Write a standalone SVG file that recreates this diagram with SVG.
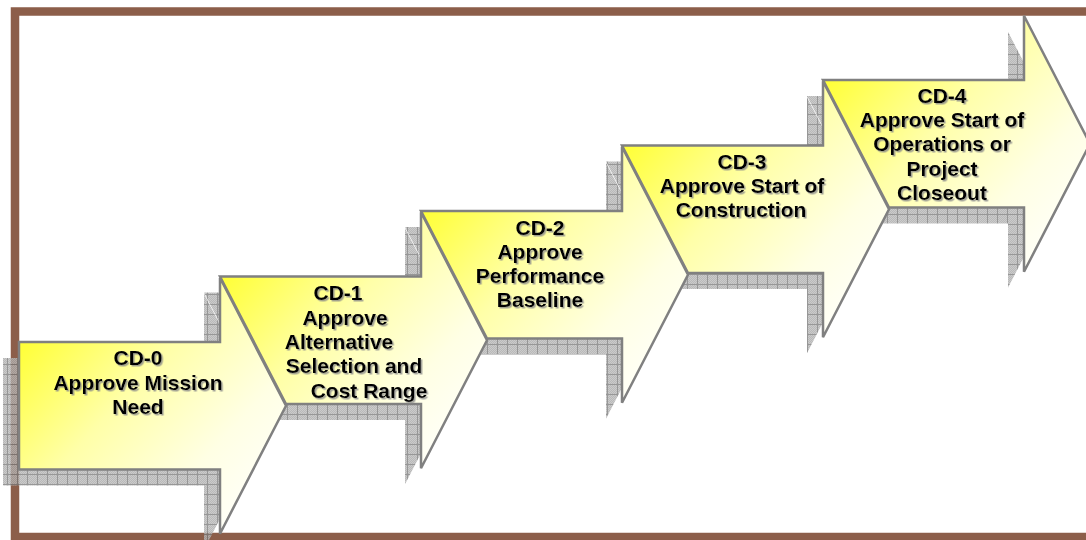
<svg xmlns="http://www.w3.org/2000/svg" xmlns:xlink="http://www.w3.org/1999/xlink" width="1086" height="540" viewBox="0 0 1086 540">
  <defs>
    <pattern id="dither" patternUnits="userSpaceOnUse" x="0" y="0" width="2" height="2">
      <rect width="2" height="2" fill="#bdbdbd"/>
      <rect width="1" height="1" fill="#a6a6a6"/>
      <rect x="1" y="1" width="1" height="1" fill="#a6a6a6"/>
    </pattern>
    <pattern id="grid" patternUnits="userSpaceOnUse" x="3" y="8" width="10" height="10">
      <rect width="10" height="10" fill="url(#dither)"/>
      <path d="M0 0.5H10M0.5 0V10" stroke="#7a7a7a" stroke-width="1" fill="none"/>
    </pattern>
    <linearGradient id="yg" x1="0.02" y1="0.22" x2="0.85" y2="0.95">
      <stop offset="0" stop-color="#ffff33"/>
      <stop offset="0.4" stop-color="#ffffa8"/>
      <stop offset="0.75" stop-color="#ffffe4"/>
      <stop offset="1" stop-color="#fffffa"/>
    </linearGradient>
    <filter id="ts" x="-5%" y="-20%" width="110%" height="140%">
      <feDropShadow dx="1.5" dy="1.5" stdDeviation="0.4" flood-color="#8a8a8a" flood-opacity="0.8"/>
    </filter>
  </defs>
  <style>
    .arrow { fill: url(#yg); stroke: #808080; stroke-width: 2.5; stroke-linejoin: miter; }
    .shadow { fill: url(#grid); stroke: none; }
    .lbl { font-family: "Liberation Sans", Arial, sans-serif; font-weight: bold; font-size: 21px; fill: #000; text-anchor: middle; filter: url(#ts); }
  </style>

  <rect id="frame" x="15" y="11.5" width="1100" height="525.5" fill="none" stroke="#8c5e4a" stroke-width="8.5"/>

  <g id="shadows" opacity="0.78" transform="translate(-16,16)">
    <polygon class="shadow" points="19,342 220,342 220,277.75 286,405.75 220,533.75 220,469.5 19,469.5"/>
    <polygon class="shadow" points="220,276.5 421,276.5 421,212.25 487,340.25 421,468.25 421,404 286,404"/>
    <polygon class="shadow" points="421,211 622,211 622,146.75 688,274.75 622,402.75 622,338.5 487,338.5"/>
    <polygon class="shadow" points="622,145.5 823,145.5 823,81.25 889,209.25 823,337.25 823,273 688,273"/>
    <polygon class="shadow" points="823,80 1024,80 1024,15.75 1090,143.75 1024,271.75 1024,207.5 889,207.5"/>
  </g>

  <g id="cd0">
    <polygon class="arrow" points="19,342 220,342 220,277.75 286,405.75 220,533.75 220,469.5 19,469.5"/>
    <text class="lbl" x="138" y="365">CD-0</text>
    <text class="lbl" x="138" y="389.5">Approve Mission</text>
    <text class="lbl" x="138" y="414">Need</text>
  </g>
  <g id="cd1">
    <polygon class="arrow" points="220,276.5 421,276.5 421,212.25 487,340.25 421,468.25 421,404 286,404"/>
    <text class="lbl" x="338" y="300">CD-1</text>
    <text class="lbl" x="345" y="324.5">Approve</text>
    <text class="lbl" x="339" y="349">Alternative</text>
    <text class="lbl" x="354" y="373">Selection and</text>
    <text class="lbl" x="369" y="397.5">Cost Range</text>
  </g>
  <g id="cd2">
    <polygon class="arrow" points="421,211 622,211 622,146.75 688,274.75 622,402.75 622,338.5 487,338.5"/>
    <text class="lbl" x="540" y="235">CD-2</text>
    <text class="lbl" x="540" y="259">Approve</text>
    <text class="lbl" x="540" y="283">Performance</text>
    <text class="lbl" x="540" y="307">Baseline</text>
  </g>
  <g id="cd3">
    <polygon class="arrow" points="622,145.5 823,145.5 823,81.25 889,209.25 823,337.25 823,273 688,273"/>
    <text class="lbl" x="742" y="169">CD-3</text>
    <text class="lbl" x="742" y="193">Approve Start of</text>
    <text class="lbl" x="741" y="217">Construction</text>
  </g>
  <g id="cd4">
    <polygon class="arrow" points="823,80 1024,80 1024,15.75 1090,143.75 1024,271.75 1024,207.5 889,207.5"/>
    <text class="lbl" x="942" y="102.5">CD-4</text>
    <text class="lbl" x="942" y="127">Approve Start of</text>
    <text class="lbl" x="942" y="151">Operations or</text>
    <text class="lbl" x="942" y="175.5">Project</text>
    <text class="lbl" x="942" y="200">Closeout</text>
  </g>
</svg>
